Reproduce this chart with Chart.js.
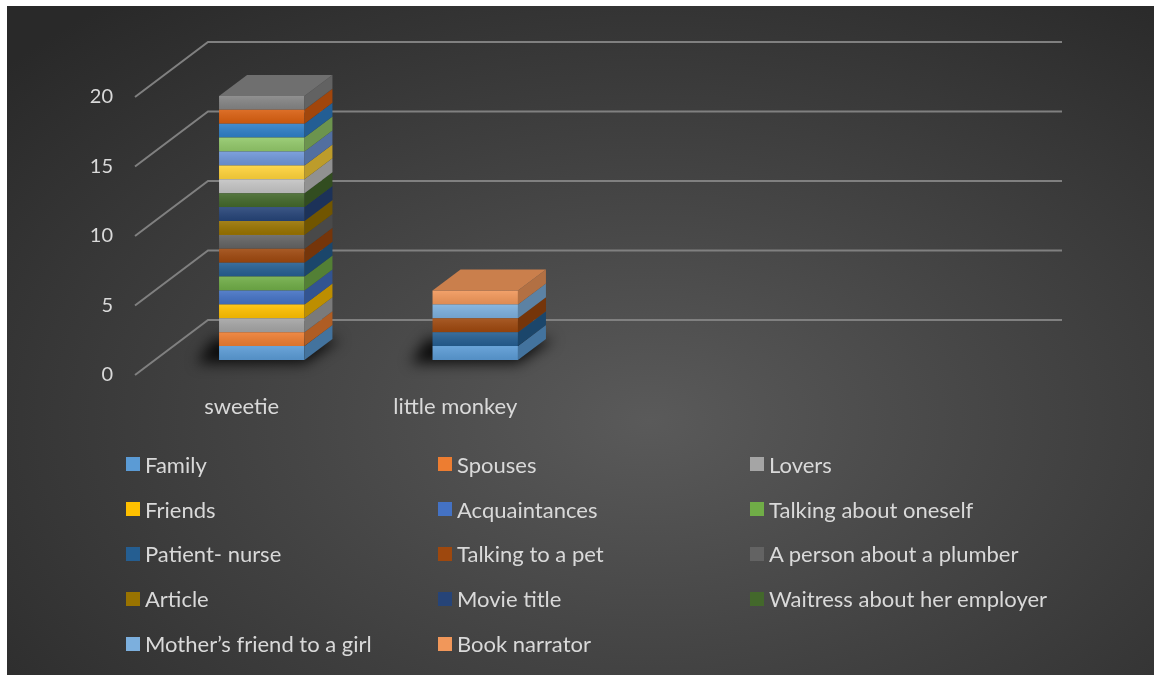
<!DOCTYPE html>
<html>
<head>
<meta charset="utf-8">
<script src="https://cdn.jsdelivr.net/npm/chart.js@4/dist/chart.umd.min.js"></script>
<style>
  html, body { margin: 0; padding: 0; background: #fff; }
  #wrap {
    position: absolute; left: 7px; top: 6px; width: 1147px; height: 669px;
    background: radial-gradient(ellipse 75% 80% at 56% 62%, #5a5a5a 0%, #464646 40%, #292929 100%);
    overflow: hidden;
  }
  #chart { position: absolute; left: 0; top: 0; }
  #legend {
    position: absolute; left: 119px; top: 436px;
    display: grid; grid-template-columns: repeat(3, 312px); grid-auto-rows: 44.8px;
    font-family: Lato, "Open Sans", sans-serif; font-size: 22px; color: #d9d9d9;
  }
  #legend .item { display: flex; align-items: center; white-space: nowrap; }
  #legend .box { width: 14px; height: 14px; margin-right: 5px; flex: none; }
</style>
</head>
<body>
<div id="wrap">
  <canvas id="chart" width="1147" height="669"></canvas>
  <div id="legend"></div>
</div>
<script>
// Categories along the floor (the last two slots are empty)
const categories = ['sweetie', 'little monkey', '', ''];

// Series in stacking order; the unnamed ones are not listed in the legend
const seriesNames = [
  'Family', 'Spouses', 'Lovers', 'Friends', 'Acquaintances', 'Talking about oneself',
  'Patient- nurse', 'Talking to a pet', 'A person about a plumber', 'Article', 'Movie title',
  'Waitress about her employer', 'Mother’s friend to a girl', 'Book narrator',
  '', '', '', '', '', '', ''
];
const seriesColors = [
  '#5b9bd5', '#ed7d31', '#a5a5a5', '#ffc000', '#4472c4', '#70ad47',
  '#255e91', '#9e480e', '#636363', '#997300', '#264478', '#43682b',
  '#7cafdd', '#f1975a', '#c4c4c4', '#ffd33a', '#6f96d8', '#92c86a',
  '#2f7fc8', '#d95f10', '#848484'
];
const sweetieCounts      = [1, 1, 1, 1, 1, 1, 1, 1, 1, 1, 1, 1, 0, 0, 1, 1, 1, 1, 1, 1, 1];
const littleMonkeyCounts = [1, 0, 0, 0, 0, 0, 1, 1, 0, 0, 0, 0, 1, 1, 0, 0, 0, 0, 0, 0, 0];
const yTicks = [0, 5, 10, 15, 20];

// Perspective offsets (px) relative to the plane of the bar fronts
const FLOOR = { x: -20, y: 15 };   // front edge of floor / tick labels
const WALL = { x: 73, y: -55 };    // floor front edge -> back wall
const BAR_DEPTH = { x: 28, y: -21 };

function shade(hex, f) {
  const n = parseInt(hex.slice(1), 16);
  const r = Math.round(((n >> 16) & 255) * f);
  const g = Math.round(((n >> 8) & 255) * f);
  const b = Math.round((n & 255) * f);
  return `rgb(${Math.min(r, 255)},${Math.min(g, 255)},${Math.min(b, 255)})`;
}

const datasets = seriesNames.map((name, i) => ({
  label: name,
  data: [sweetieCounts[i], littleMonkeyCounts[i], 0, 0],
  backgroundColor: seriesColors[i],
  borderWidth: 0,
  categoryPercentage: 1,
  barPercentage: 0.4
}));

function barRect(el) {
  const p = el.getProps(['x', 'y', 'base', 'width'], true);
  return {
    left: p.x - p.width / 2, right: p.x + p.width / 2,
    top: Math.min(p.y, p.base), bottom: Math.max(p.y, p.base)
  };
}

const depthPlugin = {
  id: 'depth',
  beforeDatasetsDraw(chart) {
    const { ctx, chartArea, scales: { y } } = chart;
    ctx.save();
    // walls: diagonal floor edges plus lines on the back wall
    ctx.strokeStyle = '#808080';
    ctx.lineWidth = 2;
    yTicks.forEach(v => {
      const py = y.getPixelForValue(v);
      const fx = chartArea.left + FLOOR.x, fy = py + FLOOR.y;
      const bx = fx + WALL.x, by = fy + WALL.y;
      ctx.beginPath();
      ctx.moveTo(fx, fy);
      ctx.lineTo(bx, by);
      ctx.lineTo(chartArea.right + FLOOR.x + WALL.x, by);
      ctx.stroke();
    });
    // soft shadow under each stack
    categories.forEach((c, i) => {
      const total = datasets.reduce((s, d) => s + d.data[i], 0);
      if (!total) return;
      const r = barRect(chart.getDatasetMeta(0).data[i]);
      const b = y.getPixelForValue(0);
      ctx.save();
      ctx.filter = 'blur(7px)';
      ctx.fillStyle = 'rgba(0,0,0,0.85)';
      ctx.beginPath();
      ctx.moveTo(r.left - 22, b + 3);
      ctx.lineTo(r.right, b + 3);
      ctx.lineTo(r.right + BAR_DEPTH.x + 8, b + BAR_DEPTH.y);
      ctx.lineTo(r.left + BAR_DEPTH.x - 34, b + BAR_DEPTH.y);
      ctx.closePath();
      ctx.fill();
      ctx.restore();
    });
    ctx.restore();
  },
  afterDatasetsDraw(chart) {
    const { ctx } = chart;
    ctx.save();
    categories.forEach((c, i) => {
      let topSeg = null;
      datasets.forEach((d, k) => {
        if (!d.data[i]) return;
        const r = barRect(chart.getDatasetMeta(k).data[i]);
        const col = seriesColors[k];
        // light sheen on the front face
        const g = ctx.createLinearGradient(0, r.top, 0, r.bottom);
        g.addColorStop(0, 'rgba(255,255,255,0.10)');
        g.addColorStop(1, 'rgba(0,0,0,0.08)');
        ctx.fillStyle = g;
        ctx.fillRect(r.left, r.top, r.right - r.left, r.bottom - r.top);
        // right side face
        ctx.fillStyle = shade(col, 0.74);
        ctx.beginPath();
        ctx.moveTo(r.right, r.bottom);
        ctx.lineTo(r.right, r.top);
        ctx.lineTo(r.right + BAR_DEPTH.x, r.top + BAR_DEPTH.y);
        ctx.lineTo(r.right + BAR_DEPTH.x, r.bottom + BAR_DEPTH.y);
        ctx.closePath();
        ctx.fill();
        topSeg = { r, col };
      });
      if (!topSeg) return;
      const { r, col } = topSeg;
      ctx.fillStyle = shade(col, 0.84);
      ctx.beginPath();
      ctx.moveTo(r.left, r.top);
      ctx.lineTo(r.right, r.top);
      ctx.lineTo(r.right + BAR_DEPTH.x, r.top + BAR_DEPTH.y);
      ctx.lineTo(r.left + BAR_DEPTH.x, r.top + BAR_DEPTH.y);
      ctx.closePath();
      ctx.fill();
    });
    ctx.restore();
  }
};

const tickFont = { family: 'Lato, "Open Sans", sans-serif', size: 20 };
const labelFont = { family: 'Lato, "Open Sans", sans-serif', size: 22 };

new Chart(document.getElementById('chart'), {
  type: 'bar',
  data: { labels: categories, datasets },
  options: {
    responsive: false,
    animation: false,
    layout: { padding: { left: 40, right: 145, top: 76, bottom: 255 } },
    plugins: { legend: { display: false }, tooltip: { enabled: false } },
    scales: {
      x: {
        stacked: true,
        grid: { display: false, drawTicks: false },
        border: { display: false },
        ticks: { color: '#d9d9d9', font: labelFont, padding: 34, labelOffset: FLOOR.x },
        afterFit(scale) { scale.height = 60; }
      },
      y: {
        stacked: true,
        min: 0, max: 20,
        afterBuildTicks(scale) { scale.ticks = yTicks.map(v => ({ value: v })); },
        grid: { display: false, drawTicks: false },
        border: { display: false },
        ticks: { color: '#d9d9d9', font: tickFont, padding: 42, labelOffset: FLOOR.y },
        afterFit(scale) { scale.width = 108; }
      }
    }
  },
  plugins: [depthPlugin]
});

// legend: three columns, named series only
const legendEl = document.getElementById('legend');
seriesNames.forEach((name, i) => {
  if (!name) return;
  const item = document.createElement('div');
  item.className = 'item';
  item.innerHTML = `<span class="box" style="background:${seriesColors[i]}"></span><span>${name}</span>`;
  legendEl.appendChild(item);
});
</script>
</body>
</html>
